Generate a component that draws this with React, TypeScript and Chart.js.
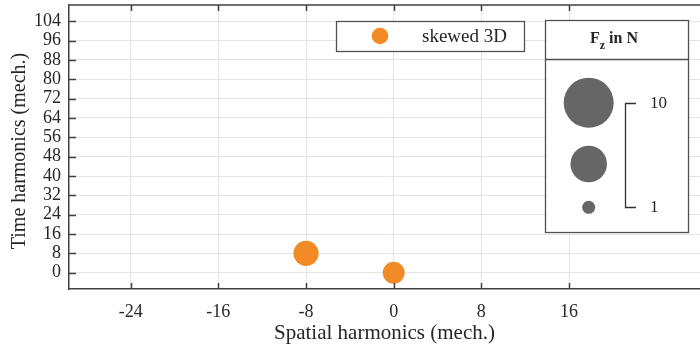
import { useEffect, useRef } from "react";
import { Chart, registerables } from "chart.js";
Chart.register(...registerables);

const seriesName = "skewed 3D";
const spatialHarmonics = [-8, 0];
const timeHarmonics = [8, 0];
const forceFz = [2.8, 2.2];
const xTickValues = [-24, -16, -8, 0, 8, 16];
const yTickValues = [0, 8, 16, 24, 32, 40, 48, 56, 64, 72, 80, 88, 96, 104];
const sizeLimits = [1, 10];
const sizeLegendValues = [10, 5.5, 1];
const sizeLegendLabels = ["10", "1"];
const xTitle = "Spatial harmonics (mech.)";
const yTitle = "Time harmonics (mech.)";

const ORANGE = "#F28A25";
const GRAYBUB = "#666666";
const TEXT = "#262626";
const AXIS = "#404040";
const GRID = "#e4e4e4";
const SERIF = "'Liberation Serif', 'Times New Roman', serif";

const R_MIN = 6.5;
const R_MAX = 25;
function radiusOf(v: number) {
  const t = (v - sizeLimits[0]) / (sizeLimits[1] - sizeLimits[0]);
  return Math.sqrt(R_MIN * R_MIN + t * (R_MAX * R_MAX - R_MIN * R_MIN));
}

const framePlugin = {
  id: "frame",
  afterDraw(chart: any) {
    const { ctx, chartArea, scales } = chart;
    const { left, right, top, bottom } = chartArea;
    ctx.save();
    ctx.strokeStyle = AXIS;
    ctx.lineWidth = 1.5;
    ctx.beginPath();
    ctx.moveTo(left, top);
    ctx.lineTo(right + 2, top);
    ctx.stroke();
    ctx.lineWidth = 1.5;
    ctx.beginPath();
    for (const v of xTickValues) {
      const x = Math.round(scales.x.getPixelForValue(v)) + 0.5;
      ctx.moveTo(x, bottom);
      ctx.lineTo(x, bottom - 6);
      ctx.moveTo(x, top);
      ctx.lineTo(x, top + 6);
    }
    for (const v of yTickValues) {
      const y = Math.round(scales.y.getPixelForValue(v)) + 0.5;
      ctx.moveTo(left, y);
      ctx.lineTo(left + 7, y);
    }
    ctx.stroke();

    // y axis title
    ctx.save();
    ctx.translate(20, (top + bottom) / 2 + 4);
    ctx.rotate(-Math.PI / 2);
    ctx.fillStyle = TEXT;
    ctx.font = `20px ${SERIF}`;
    ctx.textAlign = "center";
    ctx.textBaseline = "middle";
    ctx.fillText(yTitle, 0, 0);
    ctx.restore();

    // series legend box
    ctx.fillStyle = "#ffffff";
    ctx.fillRect(336, 21, 188, 30);
    ctx.strokeStyle = "#505050";
    ctx.lineWidth = 1.3;
    ctx.strokeRect(336.5, 21.5, 188, 30);
    ctx.fillStyle = ORANGE;
    ctx.beginPath();
    ctx.arc(380, 36, 8.3, 0, Math.PI * 2);
    ctx.fill();
    ctx.fillStyle = TEXT;
    ctx.font = `19px ${SERIF}`;
    ctx.textBaseline = "middle";
    ctx.textAlign = "left";
    ctx.fillText(seriesName, 422, 37);

    // size legend box
    ctx.fillStyle = "#ffffff";
    ctx.fillRect(545, 20, 143, 212);
    ctx.strokeStyle = "#505050";
    ctx.strokeRect(545.5, 20.5, 143, 212);
    ctx.beginPath();
    ctx.moveTo(545.5, 59.5);
    ctx.lineTo(688.5, 59.5);
    ctx.stroke();

    ctx.fillStyle = TEXT;
    ctx.font = `bold 16px ${SERIF}`;
    ctx.textBaseline = "alphabetic";
    const fW = ctx.measureText("F").width;
    ctx.font = `bold 12px ${SERIF}`;
    const zW = ctx.measureText("z").width;
    ctx.font = `bold 16px ${SERIF}`;
    const restW = ctx.measureText(" in N").width;
    const total = fW + zW + restW;
    const hx = 614 - total / 2;
    ctx.fillText("F", hx, 43);
    ctx.font = `bold 12px ${SERIF}`;
    ctx.fillText("z", hx + fW, 49);
    ctx.font = `bold 16px ${SERIF}`;
    ctx.fillText(" in N", hx + fW + zW, 43);

    const ys = [102.7, 164, 207.3];
    ctx.fillStyle = GRAYBUB;
    sizeLegendValues.forEach((v, i) => {
      ctx.beginPath();
      ctx.arc(588.7, ys[i], radiusOf(v), 0, Math.PI * 2);
      ctx.fill();
    });
    ctx.strokeStyle = "#303030";
    ctx.lineWidth = 1.3;
    ctx.beginPath();
    ctx.moveTo(636, 103.5);
    ctx.lineTo(625.5, 103.5);
    ctx.lineTo(625.5, 207.5);
    ctx.lineTo(636, 207.5);
    ctx.stroke();
    ctx.fillStyle = TEXT;
    ctx.font = `17px ${SERIF}`;
    ctx.textBaseline = "middle";
    ctx.textAlign = "left";
    ctx.fillText(sizeLegendLabels[0], 650, 104);
    ctx.fillText(sizeLegendLabels[1], 650, 208);
    ctx.restore();
  },
};

export default function App() {
  const ref = useRef<HTMLCanvasElement>(null);
  useEffect(() => {
    const canvas = ref.current!;
    const chart = new Chart(canvas, {
      type: "bubble",
      data: {
        datasets: [
          {
            label: seriesName,
            data: spatialHarmonics.map((x, i) => ({
              x,
              y: timeHarmonics[i],
              r: radiusOf(forceFz[i]),
            })),
            backgroundColor: ORANGE,
            borderWidth: 0,
            hoverRadius: 0,
          },
        ],
      },
      options: {
        responsive: false,
        animation: false,
        events: [],
        layout: { autoPadding: false, padding: { top: 5, right: 0, left: 0, bottom: 0 } },
        plugins: { legend: { display: false }, tooltip: { enabled: false } },
        scales: {
          x: {
            type: "linear",
            min: -29.63,
            max: 27.95,
            afterBuildTicks: (s: any) => {
              s.ticks = xTickValues.map((value) => ({ value }));
            },
            afterFit: (s: any) => {
              s.height = 55;
              s.paddingLeft = 0;
              s.paddingRight = 0;
            },
            grid: { color: GRID, lineWidth: 1, drawTicks: false },
            border: { display: true, color: AXIS, width: 1.5 },
            ticks: {
              color: TEXT,
              font: { family: SERIF, size: 18 },
              padding: 12,
              maxRotation: 0,
              autoSkip: false,
            },
            title: {
              display: true,
              text: xTitle,
              color: TEXT,
              font: { family: SERIF, size: 21 },
              padding: { top: 0, bottom: -2 },
            },
          },
          y: {
            type: "linear",
            min: -6.74,
            max: 110.74,
            afterBuildTicks: (s: any) => {
              s.ticks = yTickValues.map((value) => ({ value }));
            },
            afterFit: (s: any) => {
              s.width = 69;
              s.paddingTop = 0;
              s.paddingBottom = 0;
            },
            grid: { color: GRID, lineWidth: 1, drawTicks: false },
            border: { display: true, color: AXIS, width: 1.5 },
            ticks: {
              color: TEXT,
              font: { family: SERIF, size: 18 },
              padding: 8,
              autoSkip: false,
            },
            title: { display: false },
          },
        },
      },
      plugins: [framePlugin],
    });
    return () => chart.destroy();
  }, []);
  return (
    <div style={{ position: "fixed", left: 0, top: 0, width: 700, height: 344, background: "#fff" }}>
      <canvas ref={ref} width={700} height={344} style={{ display: "block" }} />
    </div>
  );
}
